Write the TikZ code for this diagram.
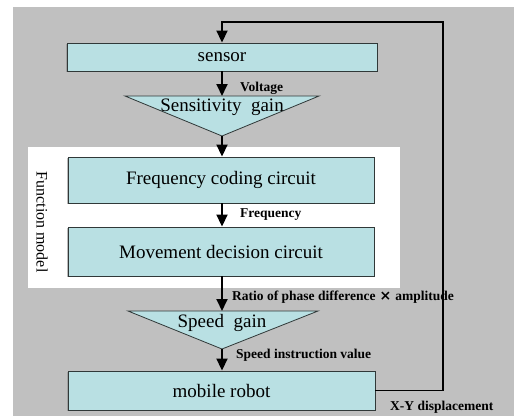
\documentclass[tikz,border=0pt]{standalone}
\usepackage{fontspec}
\setmainfont{Liberation Serif}
\usetikzlibrary{arrows.meta,shadows}
\definecolor{panel}{HTML}{C0C0C0}
\definecolor{blockfill}{HTML}{B9E0E3}
\definecolor{blockline}{HTML}{303838}
\tikzset{
  blk/.style={draw=blockline, line width=0.9pt, fill=blockfill, inner sep=0pt,
    font=\fontsize{19}{22}\selectfont,
    drop shadow={shadow xshift=-1.3pt, shadow yshift=-1.3pt, fill=black!45, opacity=0.6}},
  gaintri/.style={draw=blockline, line width=0.8pt, fill=blockfill},
  gaintext/.style={font=\fontsize{19}{22}\selectfont, inner sep=0pt},
  sig/.style={font=\bfseries\fontsize{13.5}{15}\selectfont, inner sep=0pt, anchor=west},
  flow/.style={line width=1.8pt, -{Triangle[length=12pt,width=11pt]}}
}
\begin{document}
\begin{tikzpicture}[x=1pt, y=-1pt]
\useasboundingbox (0,0) rectangle (514,416);
% backgrounds
\fill[panel] (13,7) rectangle (514,416);
\fill[white] (28,147) rectangle (400,288);
\node[rotate=-90, font=\fontsize{16}{18}\selectfont, inner sep=0pt] (fm) at (42,222) {Function model};

% blocks
\node[blk, minimum width=310pt, minimum height=28pt] (sensor) at (222,57) {sensor};
\node[blk, minimum width=306pt, minimum height=46pt] (freq) at (221,180) {Frequency coding circuit};
\node[blk, minimum width=306pt, minimum height=49pt] (move) at (221,251.5) {Movement decision circuit};
\node[blk, minimum width=307pt, minimum height=39pt] (robot) at (221.5,390.5) {mobile robot};

% gain triangles
\coordinate (sensTop) at (222,96);
\coordinate (sensApex) at (222,136);
\draw[gaintri] (125,96) -- (319,96) -- (sensApex) -- cycle;
\node[gaintext] (sensLbl) at (222,107) {Sensitivity\ \ gain};

\coordinate (spdTop) at (222,311);
\coordinate (spdApex) at (222,349);
\draw[gaintri] (128,311) -- (318,311) -- (spdApex) -- cycle;
\node[gaintext] (spdLbl) at (222,323) {Speed\ \ gain};

% signal flow
\draw[flow] (sensor.south -| sensTop) -- (sensTop);
\draw[flow] (sensApex) -- (freq.north -| sensApex);
\draw[flow] (freq.south -| sensApex) -- (move.north -| sensApex);
\draw[flow] (move.south -| spdTop) -- (spdTop);
\draw[flow] (spdApex) -- (robot.north -| spdApex);

% feedback loop
\coordinate (fbCorner) at (443,22);
\draw[flow] (robot.east) -| (fbCorner) -| (sensor.north);

% signal labels
\node[sig] (vLbl) at (240,88) {Voltage};
\node[sig] (fLbl) at (240,215) {Frequency};
\node[sig] (rLbl) at (232,297) {Ratio of phase difference\hspace{4pt}{\fontspec{DejaVu Sans}\bfseries\fontsize{14}{15}\selectfont ×}\hspace{4pt}amplitude};
\node[sig] (sLbl) at (236,355) {Speed instruction value};
\node[sig] (xyLbl) at (390,407) {X-Y displacement};
\end{tikzpicture}
\end{document}
